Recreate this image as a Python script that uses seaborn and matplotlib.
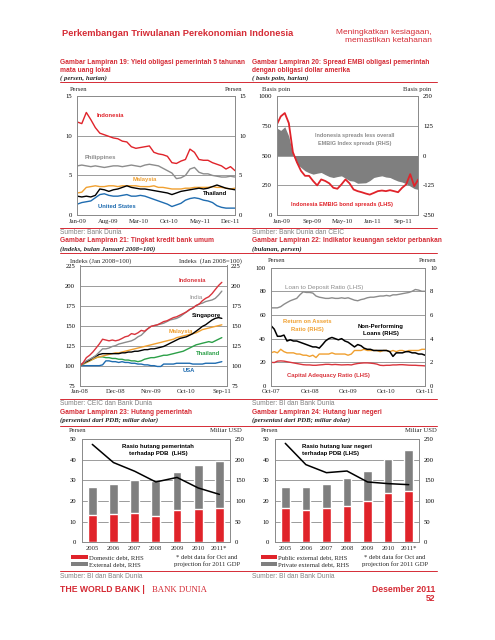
import matplotlib
matplotlib.use("Agg")
import matplotlib.pyplot as plt
from matplotlib.lines import Line2D
from matplotlib.patches import Patch
import numpy as np
import pandas as pd
import seaborn as sns

# ---------------- data ----------------
# Gambar 19: 5y local currency bond yields (%), Jan-09 .. Dec-11
ticks19 = ["Jan-09", "Aug-09", "Mar-10", "Oct-10", "May-11", "Dec-11"]
yield_idn = [11.7, 11.5, 12.9, 12.0, 11.0, 10.3, 10.1, 9.9, 9.7, 9.6, 9.3, 9.2, 8.6, 8.4, 8.5, 8.6, 8.7, 7.9,
             7.7, 7.6, 7.4, 6.6, 6.5, 6.8, 7.0, 8.3, 7.9, 7.0, 6.9, 6.9, 6.6, 6.4, 6.2, 5.8, 6.1, 5.6]
yield_phl = [6.2, 6.3, 6.2, 6.1, 6.2, 6.1, 6.0, 6.1, 6.2, 6.2, 6.1, 6.2, 6.3, 6.2, 6.1, 6.3, 6.4, 6.3,
             6.2, 5.9, 5.6, 5.3, 4.6, 4.7, 5.0, 5.8, 6.0, 5.4, 5.2, 5.2, 5.0, 4.9, 4.8, 4.8, 4.9, 4.8]
yield_mys = [2.8, 2.9, 3.5, 3.6, 3.7, 3.6, 3.6, 3.7, 3.7, 3.6, 3.7, 3.7, 3.7, 3.7, 3.6, 3.6, 3.6, 3.7,
             3.5, 3.5, 3.4, 3.3, 3.3, 3.3, 3.4, 3.4, 3.5, 3.5, 3.5, 3.5, 3.6, 3.5, 3.5, 3.4, 3.3, 3.4]
yield_tha = [2.4, 2.3, 2.4, 2.3, 2.5, 3.3, 3.2, 3.0, 3.2, 3.3, 3.5, 3.7, 3.5, 3.4, 3.3, 3.3, 3.2, 3.1,
             3.0, 2.9, 2.8, 2.6, 2.8, 3.0, 3.1, 3.2, 3.3, 3.4, 3.3, 3.4, 3.6, 3.8, 3.6, 3.4, 3.3, 3.2]
yield_usa = [1.4, 1.6, 1.7, 1.8, 2.2, 2.6, 2.7, 2.5, 2.4, 2.4, 2.5, 2.6, 2.4, 2.4, 2.5, 2.4, 2.2, 2.0,
             1.8, 1.6, 1.4, 1.1, 1.3, 1.5, 1.9, 2.1, 2.2, 2.1, 1.9, 1.8, 1.6, 1.2, 1.0, 0.9, 0.9, 0.9]

# Gambar 20: EMBIG spreads (bp)
ticks20 = ["Jan-09", "Sep-09", "May-10", "Jan-11", "Sep-11"]
embi_idn = [756, 827, 855, 770, 528, 443, 372, 330, 330, 287, 250, 300, 287, 267, 230, 222, 258, 300,
            267, 216, 202, 193, 182, 173, 187, 202, 207, 202, 210, 202, 193, 230, 258, 344, 244, 300]
embi_rel = [115, 105, 120, 80, 5, -35, -50, -64, -72, -78, -74, -71, -80, -88, -92, -88, -85, -95,
            -105, -107, -116, -115, -114, -105, -92, -88, -85, -90, -92, -100, -107, -111, -118, -128, -138, -142]

# Gambar 21: bank credit index (Jan 2008 = 100)
ticks21 = ["Jan-08", "Dec-08", "Nov-09", "Oct-10", "Sep-11"]
cred_idn = [100, 104, 110, 113, 117, 122, 127, 133, 132, 131, 132, 131, 132, 134, 136, 137, 140, 139, 141, 144,
            143, 146, 149, 150, 151, 153, 155, 156, 158, 160, 161, 163, 165, 167, 170, 172, 175, 177, 181, 184,
            186, 190, 195, 200, 204]
cred_ind = [100, 103, 106, 108, 110, 113, 117, 121, 121, 122, 124, 125, 127, 128, 129, 130, 131, 133, 136, 138,
            142, 146, 149, 150, 151, 152, 153, 155, 157, 158, 159, 161, 164, 167, 170, 172, 175, 177, 178, 180,
            181, 182, 184, 188, 193]
cred_sgp = [100, 103, 105, 107, 110, 112, 114, 115, 115, 115, 115, 115, 115, 116, 116, 117, 117, 118, 118, 119,
            120, 120, 121, 121, 122, 123, 124, 126, 128, 130, 132, 134, 135, 136, 138, 140, 143, 146, 149, 151,
            154, 157, 159, 160, 159]
cred_mys = [100, 102, 104, 106, 108, 110, 111, 112, 113, 114, 115, 116, 116, 117, 118, 119, 120, 121, 122, 123,
            124, 125, 126, 127, 128, 129, 130, 131, 132, 133, 135, 136, 137, 138, 139, 140, 141, 143, 145, 146,
            147, 148, 149, 150, 151]
cred_tha = [100, 102, 104, 106, 108, 110, 111, 111, 110, 110, 109, 109, 108, 108, 107, 107, 106, 106, 105, 106,
            108, 109, 110, 110, 111, 112, 113, 113, 114, 115, 116, 117, 118, 120, 122, 124, 126, 127, 128, 129,
            130, 129, 131, 133, 135]
cred_usa = [100, 100, 100, 100, 100, 100, 100, 101, 106, 106, 105, 105, 104, 105, 104, 104, 103, 103, 102, 102,
            101, 101, 100, 100, 99, 99, 102, 102, 102, 102, 103, 103, 103, 103, 103, 102, 102, 102, 102, 103,
            103, 103, 103, 104, 105]

# Gambar 22: banking indicators (%), Oct-07 .. Oct-11
ticks22 = ["Oct-07", "Oct-08", "Oct-09", "Oct-10", "Oct-11"]
ldr = [66, 66, 66, 67, 69, 70.5, 72, 73, 74, 77, 79.5, 79, 79, 78.5, 76, 75, 74.5, 74, 74, 74.5,
       74, 74, 74.5, 74, 74.5, 73.5, 72.5, 72, 73, 73.5, 74.5, 75, 75, 75.5, 76, 76, 76.5, 76, 77, 77,
       77.5, 78, 78.5, 79, 80, 81.5, 81, 80, 80]
roa = [2.8, 2.9, 2.8, 3.1, 2.9, 2.8, 2.8, 2.8, 2.7, 2.7, 2.6, 2.6, 2.5, 2.6, 2.4, 2.7, 2.7, 2.7, 2.7, 2.8,
       2.7, 2.7, 2.7, 2.7, 2.6, 2.7, 3.0, 3.0, 3.0, 3.1, 3.0, 3.0, 3.0, 3.0, 2.9, 3.0, 3.0, 2.9, 3.0, 2.9,
       3.0, 3.0, 2.9, 3.0, 3.0, 3.0, 3.0, 3.1, 3.1]
npl = [5.1, 4.8, 4.2, 4.2, 4.3, 3.8, 3.9, 3.8, 3.8, 3.7, 3.6, 3.5, 3.4, 3.3, 3.3, 3.2, 3.5, 3.8, 4.0, 4.1,
       4.0, 3.9, 4.0, 3.8, 3.7, 3.5, 3.3, 3.5, 3.4, 3.2, 3.1, 3.1, 3.0, 3.0, 3.0, 3.0, 3.0, 2.9, 2.5, 2.8,
       2.8, 2.8, 2.9, 2.9, 2.8, 2.8, 2.7, 2.7, 2.6]
car = [20, 19.8, 21, 21.2, 21, 20.5, 20, 19.5, 19, 18.5, 18, 17.8, 17.8, 17.5, 17.5, 17.8, 18, 18.3, 18.3, 18,
       18.2, 18, 17.8, 17.9, 18, 17.8, 18.5, 19, 19.3, 19.5, 19.5, 19.3, 19, 18.5, 17.5, 17.3, 17.5, 17.5, 17.8, 17.8,
       18, 18, 17.8, 17.6, 17.5, 17.5, 17.3, 17.2, 17]

# Gambar 23 / 24: debt (USD bn, RHS) and debt ratio (% of GDP, LHS)
years = ["2005", "2006", "2007", "2008", "2009", "2010", "2011*"]
gov_domestic = [66, 68, 71, 63, 77, 80, 82]
gov_external = [68, 72, 79, 86, 93, 108, 115]
gov_ratio = [47.4, 38.6, 34.4, 29.2, 31.4, 26.3, 23.2]
ext_public = [83, 77, 83, 87, 99, 120, 123]
ext_private = [52, 56, 58, 68, 73, 82, 100]
ext_ratio = [47.9, 37.6, 33.7, 34.5, 29.2, 28.4, 27.9]

# ---------------- style ----------------
sns.set_theme(style="white")
plt.rcParams.update({
    "font.family": "Liberation Serif",
    "axes.unicode_minus": False,
    "axes.edgecolor": "#8c8c8c",
    "axes.linewidth": 0.7,
})

TRED = "#d52b35"
RED = "#e0232a"
GREY = "#8c8c8c"
BARGREY = "#7f7f7f"
ORANGE = "#f0a030"
BLUE = "#1f6cb0"
GREEN = "#2ca048"
GRID = "#8c8c8c"
SANS = "Liberation Sans"
TFS = 4.8

W, H = 495, 640
fig = plt.figure(figsize=(W / 100, H / 100), dpi=100)


def box(x0, y0, x1, y1):
    return [x0 / W, 1 - y1 / H, (x1 - x0) / W, (y1 - y0) / H]


def put(x, y, s, **kw):
    kw.setdefault("va", "center")
    kw.setdefault("fontsize", TFS)
    fig.text(x / W, 1 - y / H, s, **kw)


def rule(y):
    fig.add_artist(Line2D([60 / W, 437 / W], [1 - y / H] * 2, color=TRED, lw=0.7))


def label(x, y, s, color, size=4.2, weight="bold", ha="left"):
    put(x, y, s, color=color, family=SANS, weight=weight, fontsize=size, ha=ha)


def title(x, ys, lines, sub):
    for y, ln in zip(ys, lines):
        put(x, y, ln, family=SANS, weight="bold", color=TRED, fontsize=4.75)
    put(x, ys[-1] + 7.8, sub, style="italic", weight="bold", fontsize=4.9)


def source(x, y, s):
    put(x, y, s, family=SANS, color="#808080", fontsize=4.8)


def yaxis(ax, lim, ticks, pad, grid=False):
    ax.set_ylim(*lim)
    ax.set_yticks(ticks)
    ax.tick_params(axis="y", labelsize=TFS, length=0, pad=pad, labelcolor="black")
    ax.set_ylabel("")
    if grid:
        for v in ticks[1:-1]:
            ax.axhline(v, color=GRID, lw=0.6, zorder=0)


def xdates(ax, lo, hi, labels, marks=False):
    ax.set_xlim(lo, hi)
    ax.set_xticks([pd.to_datetime(t, format="%b-%y") for t in labels])
    ax.set_xticklabels(labels)
    ax.tick_params(axis="x", labelsize=TFS, pad=2.5,
                   direction="in", length=2.5 if marks else 0, color=GRID)
    ax.set_xlabel("")


# ---------------- header ----------------
put(62, 33, "Perkembangan Triwulanan Perekonomian Indonesia", family=SANS, weight="bold",
    color=TRED, fontsize=6.7)
put(432, 33, "Meningkatkan kesiagaan,", family=SANS, color=TRED, fontsize=6.0, ha="right")
put(432, 40.6, "memastikan ketahanan", family=SANS, color=TRED, fontsize=6.0, ha="right")

# ---------------- Gambar 19 ----------------
title(60, [63, 70.4], ["Gambar Lampiran 19: Yield obligasi pemerintah 5 tahunan", "mata uang lokal"],
      "( persen, harian)")
title(252, [63, 70.4], ["Gambar Lampiran 20: Spread EMBI obligasi pemerintah", "dengan obligasi dollar amerika"],
      "( basis poin, harian)")
rule(82.4)

dates19 = pd.date_range("2009-01-01", "2011-12-31", periods=len(yield_idn))
ax = fig.add_axes(box(77.3, 95.7, 235, 215.3))
for vals, col in [(yield_phl, GREY), (yield_mys, ORANGE), (yield_usa, BLUE),
                  (yield_tha, "black"), (yield_idn, RED)]:
    sns.lineplot(x=dates19, y=vals, color=col, linewidth=1.0, ax=ax)
yaxis(ax, (0, 15), [0, 5, 10, 15], 3.6, grid=True)
xdates(ax, dates19[0], dates19[-1], ticks19)
ax2 = ax.twinx()
yaxis(ax2, (0, 15), [0, 5, 10, 15], 2.9)
put(79, 89.5, "Persen", ha="center")
put(234, 89.5, "Persen", ha="center")
label(96.7, 115.7, "Indonesia", RED)
label(85, 157.7, "Philippines", GREY)
label(132.3, 179.3, "Malaysia", ORANGE)
label(202.7, 193.3, "Thailand", "black")
label(97.7, 206.7, "United States", BLUE)

# ---------------- Gambar 20 ----------------
dates20 = pd.date_range("2008-11-20", "2011-12-31", periods=len(embi_idn))
ax = fig.add_axes(box(276.7, 95.7, 418.3, 215.3))
ax2 = ax.twinx()
ax2.fill_between(dates20, 0, embi_rel, color=BARGREY, lw=0, zorder=1)
sns.lineplot(x=dates20, y=embi_idn, color=RED, linewidth=1.3, ax=ax)
ax.set_zorder(ax2.get_zorder() + 1)
ax.patch.set_visible(False)
yaxis(ax, (0, 1000), [0, 250, 500, 750, 1000], 3.6)
yaxis(ax2, (-250, 250), [-250, -125, 0, 125, 250], 3.5, grid=True)
xdates(ax, dates20[0], dates20[-1], ticks20)
put(276, 89.5, "Basis poin", ha="center")
put(417.5, 89.5, "Basis poin", ha="center")
label(355, 136, "Indonesia spreads less overall", GREY, size=4.0, ha="center")
label(355, 143.7, "EMBIG Index spreads (RHS)", GREY, size=4.0, ha="center")
label(341.7, 204.3, "Indonesia EMBIG bond spreads (LHS)", RED, size=4.1, ha="center")

rule(227.7)
source(60, 232.3, "Sumber: Bank Dunia")
source(252, 232.3, "Sumber: Bank Dunia dan CEIC")

# ---------------- Gambar 21 ----------------
title(60, [241], ["Gambar Lampiran 21: Tingkat kredit bank umum"], "(indeks, bulan Januari 2008=100)")
title(252, [241], ["Gambar Lampiran 22: Indikator keuangan sektor perbankan"], "(bulanan, persen)")
rule(252.7)

dates21 = pd.date_range("2008-01-01", periods=len(cred_idn), freq="MS")
ax = fig.add_axes(box(80, 265.5, 226.7, 385.7))
for vals, col in [(cred_usa, BLUE), (cred_tha, GREEN), (cred_mys, ORANGE),
                  (cred_sgp, "black"), (cred_ind, GREY), (cred_idn, "#d9343c")]:
    sns.lineplot(x=dates21, y=vals, color=col, linewidth=1.0, ax=ax)
yaxis(ax, (75, 225), [75, 100, 125, 150, 175, 200, 225], 3.6, grid=True)
xdates(ax, dates21[0], pd.Timestamp("2011-10-17"), ticks21, marks=True)
ax2 = ax.twinx()
yaxis(ax2, (75, 225), [75, 100, 125, 150, 175, 200, 225], 3.2)
put(101, 261, "Indeks (Jan 2008=100)", ha="center")
put(210, 261, "Indeks  (Jan 2008=100)", ha="center")
label(179, 280, "Indonesia", "#d9343c")
label(189, 297.7, "India", GREY, weight="normal", size=4.4)
label(192.3, 315.7, "Singapore", "black", size=4.3)
label(168.3, 332, "Malaysia", ORANGE)
label(196, 353.3, "Thailand", GREEN, size=4.3)
label(182.7, 370.7, "USA", BLUE)

# ---------------- Gambar 22 ----------------
dates22 = pd.date_range("2007-10-01", periods=len(ldr), freq="MS")
ax = fig.add_axes(box(271, 267.6, 425, 386))
ax2 = ax.twinx()
sns.lineplot(x=dates22, y=ldr, color=GREY, linewidth=1.0, ax=ax)
sns.lineplot(x=dates22, y=car, color="#d9343c", linewidth=1.0, ax=ax)
sns.lineplot(x=dates22, y=roa, color=ORANGE, linewidth=1.0, ax=ax2)
sns.lineplot(x=dates22, y=npl, color="black", linewidth=1.1, ax=ax2)
yaxis(ax, (0, 100), [0, 20, 40, 60, 80, 100], 3.6, grid=True)
yaxis(ax2, (0, 10), [0, 2, 4, 6, 8, 10], 3.6)
xdates(ax, dates22[0], dates22[-1], ticks22, marks=True)
put(276.7, 260, "Persen", ha="center")
put(427.7, 260, "Persen", ha="center")
label(285, 287.3, "Loan to Deposit Ratio (LHS)", GREY, weight="normal", size=4.5)
label(307.3, 321.7, "Return on Assets", ORANGE, size=4.2, ha="center")
label(307.3, 329, "Ratio (RHS)", ORANGE, size=4.2, ha="center")
label(381, 326.7, "Non-Performing", "black", size=4.3, ha="center")
label(381, 334, "Loans (RHS)", "black", size=4.3, ha="center")
label(328.3, 375, "Capital Adequacy Ratio (LHS)", "#d9343c", size=4.2, ha="center")

rule(399)
source(60, 403.3, "Sumber: CEIC dan Bank Dunia")
source(252, 403.3, "Sumber: BI dan Bank Dunia")

# ---------------- Gambar 23 / 24 ----------------
title(60, [412.3], ["Gambar Lampiran 23: Hutang pemerintah"], "(persentasi dari PDB; miliar dolar)")
title(252, [412.3], ["Gambar Lampiran 24: Hutang luar negeri"], "(persentasi dari PDB; miliar dolar)")
rule(425.5)


def debt_chart(rect, dom, ext, ratio, names, text_x, text_lines, text_ha, legend_x, note_x):
    ax = fig.add_axes(box(*rect))
    ax2 = ax.twinx()
    totals = [a + b for a, b in zip(dom, ext)]
    for v in [50, 100, 150, 200]:
        ax2.axhline(v, color=GRID, lw=0.6, zorder=0)
    sns.barplot(x=years, y=totals, color=BARGREY, width=0.42, saturation=1, ax=ax2, zorder=2)
    sns.barplot(x=years, y=dom, color=RED, width=0.42, saturation=1, ax=ax2, zorder=3)
    sns.lineplot(x=np.arange(len(years)), y=ratio, color="black", linewidth=1.1, ax=ax)
    ax.set_zorder(ax2.get_zorder() + 1)
    ax.patch.set_visible(False)
    yaxis(ax, (0, 50), [0, 10, 20, 30, 40, 50], 4.0)
    yaxis(ax2, (0, 250), [0, 50, 100, 150, 200, 250], 3.6)
    ax.set_xticks(range(len(years)))
    ax.set_xticklabels(years)
    ax.set_xlim(-0.5, len(years) - 0.5)
    ax.tick_params(axis="x", labelsize=TFS, length=0, pad=2.5)
    ax2.set_xlabel("")
    ax.set_xlabel("")
    for i, ln in enumerate(text_lines):
        label(text_x, 446.3 + i * 7.7, ln, "black", size=4.3, ha=text_ha)
    handles = [Patch(facecolor=RED, edgecolor="none"), Patch(facecolor=BARGREY, edgecolor="none")]
    fig.legend(handles, names, loc="upper left", bbox_to_anchor=(legend_x / W, 1 - 554.5 / H),
               bbox_transform=fig.transFigure, frameon=False, prop={"family": "Liberation Serif", "size": TFS},
               handlelength=2.5, handleheight=0.6, handletextpad=0.1, labelspacing=0.25,
               borderpad=0, borderaxespad=0)
    put(note_x, 557.3, "* debt data for Oct and", ha="center")
    put(note_x, 564.5, "projection for 2011 GDP", ha="center")


debt_chart((81.7, 439, 230, 542.3), gov_domestic, gov_external, gov_ratio,
           ["Domestic debt, RHS", "External debt, RHS"], 158,
           ["Rasio hutang pemerintah", "terhadap PDB  (LHS)"], "center", 71.2, 207)
put(77.7, 431, "Persen", ha="center")
put(242, 431, "Miliar USD", ha="right")

debt_chart((275, 439, 419, 542.3), ext_public, ext_private, ext_ratio,
           ["Public external debt, RHS", "Private external debt, RHS"], 302.3,
           ["Rasio hutang luar negeri", "terhadap PDB (LHS)"], "left", 260.5, 395)
put(270, 431, "Persen", ha="center")
put(437, 431, "Miliar USD", ha="right")

rule(571)
source(60, 576, "Sumber: BI dan Bank Dunia")
source(252, 576, "Sumber: BI dan Bank Dunia")

# ---------------- footer ----------------
put(60, 590, "THE WORLD BANK |", family=SANS, weight="bold", color=TRED, fontsize=6.2)
put(152, 590, "BANK DUNIA", color=TRED, fontsize=6.3)
put(435, 590, "Desember 2011", family=SANS, weight="bold", color=TRED, fontsize=6.2, ha="right")
put(435, 598.3, "52", family=SANS, weight="bold", color=TRED, fontsize=6.2, ha="right")

fig.savefig("out.png", dpi=100)
